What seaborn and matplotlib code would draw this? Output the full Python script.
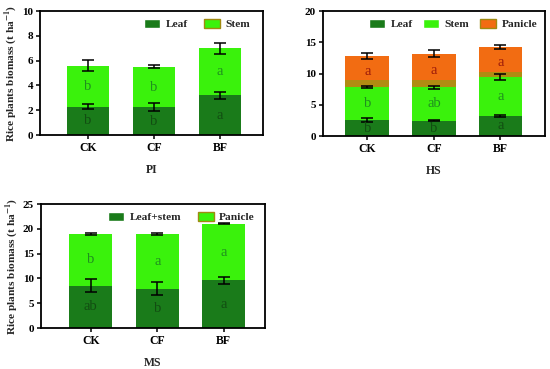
import matplotlib
matplotlib.use("Agg")
import matplotlib.pyplot as plt
from matplotlib.patches import Patch
import seaborn as sns
import numpy as np

# ---------------------------------------------------------------
#   data (t ha-1)
# ---------------------------------------------------------------
cats = ["CK", "CF", "BF"]

# PI stage
pi_leaf = [2.3, 2.25, 3.2]
pi_stem = [3.3, 3.25, 3.8]
pi_leaf_err = [0.2, 0.35, 0.3]
pi_total_err = [0.45, 0.12, 0.45]
pi_leaf_lab = ["b", "b", "a"]
pi_stem_lab = ["b", "b", "a"]

# HS stage
hs_leaf = [2.6, 2.5, 3.25]
hs_stem = [5.2, 5.3, 6.15]
hs_band = [1.15, 1.15, 0.9]        # olive overlap band at the base of the panicle
hs_panicle = [3.85, 4.25, 3.95]
hs_leaf_err = [0.3, 0.1, 0.13]
hs_stem_err = [0.15, 0.2, 0.5]
hs_total_err = [0.48, 0.53, 0.27]
hs_leaf_lab = ["b", "b", "a"]
hs_stem_lab = ["b", "ab", "a"]
hs_pan_lab = ["a", "a", "a"]

# MS stage
ms_leafstem = [8.55, 7.95, 9.6]
ms_panicle = [10.4, 11.0, 11.4]
ms_leafstem_err = [1.35, 1.25, 0.75]
ms_total_err = [0.15, 0.2, 0.1]
ms_leafstem_lab = ["ab", "b", "a"]
ms_panicle_lab = ["b", "a", "a"]

C_LEAF = "#1a7b1a"
C_STEM = "#3af20c"
C_PAN = "#f26c12"
C_BAND = "#b08c12"
C_EDGE = "#a08a10"
T_LEAF = "#124d12"
T_STEM = "#1f8f1f"
T_PAN = "#9c1a0a"

sns.set_theme(style="ticks")
plt.rcParams["font.family"] = ["Liberation Serif", "DejaVu Serif"]
plt.rcParams["mathtext.fontset"] = "stix"

fig = plt.figure(figsize=(5.5, 3.69), dpi=100)
ax1 = fig.add_axes([0.0727, 0.634, 0.405, 0.336])
ax2 = fig.add_axes([0.587, 0.631, 0.404, 0.339])
ax3 = fig.add_axes([0.074, 0.111, 0.408, 0.336])


def stacked(ax, layers, colors, width):
    # draw cumulative heights, tallest first, so each layer covers the one below
    cum = np.cumsum(np.array(layers), axis=0)
    for k in range(len(layers) - 1, -1, -1):
        sns.barplot(x=cats, y=cum[k], color=colors[k], saturation=1,
                    width=width, errorbar=None, ax=ax, linewidth=0)
    return cum


def errs(ax, tops, err):
    ax.errorbar(np.arange(len(cats)), tops, yerr=err, fmt="none",
                ecolor="black", elinewidth=1.1, capsize=4, capthick=1.1, zorder=5)


def letters(ax, lo, hi, labs, col):
    for i, (a, b, s) in enumerate(zip(lo, hi, labs)):
        ax.text(i, (a + b) / 2, s, ha="center", va="center", fontsize=10.5,
                color=col, zorder=6)


def style(ax, ymax, step, xlim, title):
    ax.set_ylim(0, ymax)
    ax.set_yticks(np.arange(0, ymax + 0.1, step))
    ax.set_xlim(*xlim)
    for sp in ax.spines.values():
        sp.set_visible(True)
        sp.set_color("black")
        sp.set_linewidth(1.3)
    ax.tick_params(axis="both", direction="out", length=3, width=1.1,
                   colors="black", pad=2)
    ax.tick_params(axis="y", labelsize=8)
    ax.tick_params(axis="x", labelsize=8.5)
    for t in ax.get_xticklabels() + ax.get_yticklabels():
        t.set_fontweight("bold")
    ax.set_xlabel(title, fontsize=8.5, fontweight="bold", labelpad=7)
    ax.set_ylabel("")


ylab = "Rice plants biomass (t ha$^{\\mathbf{-1}}$)"
leg_kw = dict(frameon=False, prop={"weight": "bold", "size": 8.2},
              handlelength=1.4, handleheight=0.9, handletextpad=0.5)

# ---- PI ----
cum = stacked(ax1, [pi_leaf, pi_stem], [C_LEAF, C_STEM], 0.64)
errs(ax1, cum[0], pi_leaf_err)
errs(ax1, cum[1], pi_total_err)
letters(ax1, np.zeros(3), cum[0], pi_leaf_lab, T_LEAF)
letters(ax1, cum[0], cum[1], pi_stem_lab, T_STEM)
style(ax1, 10, 2, (-0.73, 2.65), "PI")
ax1.set_ylabel(ylab, fontsize=8.2, fontweight="bold", labelpad=2)
ax1.legend(handles=[Patch(facecolor=C_LEAF, label="Leaf"),
                    Patch(facecolor=C_STEM, edgecolor=C_EDGE, label="Stem")],
           loc="upper right", ncol=2, bbox_to_anchor=(0.99, 1.02),
           columnspacing=1.4, **leg_kw)

# ---- HS ----
cum = stacked(ax2, [hs_leaf, hs_stem, hs_band, hs_panicle],
              [C_LEAF, C_STEM, C_BAND, C_PAN], 0.66)
errs(ax2, cum[0], hs_leaf_err)
errs(ax2, cum[1], hs_stem_err)
errs(ax2, cum[3], hs_total_err)
letters(ax2, np.zeros(3), cum[0], hs_leaf_lab, T_LEAF)
letters(ax2, cum[0], cum[1], hs_stem_lab, T_STEM)
letters(ax2, cum[1], cum[3], hs_pan_lab, T_PAN)
style(ax2, 20, 5, (-0.67, 2.67), "HS")
ax2.legend(handles=[Patch(facecolor=C_LEAF, label="Leaf"),
                    Patch(facecolor=C_STEM, label="Stem"),
                    Patch(facecolor=C_PAN, edgecolor=C_EDGE, label="Panicle")],
           loc="upper right", ncol=3, bbox_to_anchor=(1.01, 1.02),
           columnspacing=0.9, **leg_kw)

# ---- MS ----
cum = stacked(ax3, [ms_leafstem, ms_panicle], [C_LEAF, C_STEM], 0.65)
errs(ax3, cum[0], ms_leafstem_err)
errs(ax3, cum[1], ms_total_err)
letters(ax3, np.zeros(3), cum[0], ms_leafstem_lab, T_LEAF)
letters(ax3, cum[0], cum[1], ms_panicle_lab, T_STEM)
style(ax3, 25, 5, (-0.75, 2.62), "MS")
ax3.set_ylabel(ylab, fontsize=8.2, fontweight="bold", labelpad=2)
ax3.legend(handles=[Patch(facecolor=C_LEAF, label="Leaf+stem"),
                    Patch(facecolor=C_STEM, edgecolor=C_EDGE, label="Panicle")],
           loc="upper right", ncol=2, bbox_to_anchor=(1.0, 1.02),
           columnspacing=1.4, **leg_kw)

fig.savefig("out.png", dpi=100)
